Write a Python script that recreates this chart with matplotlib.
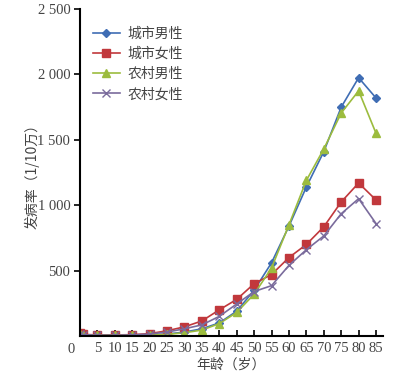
import matplotlib
matplotlib.use("Agg")
import matplotlib.pyplot as plt

plt.rcParams['font.family'] = ['Liberation Serif', 'Noto Sans CJK SC']

ages = [0, 1, 5, 10, 15, 20, 25, 30, 35, 40, 45, 50, 55, 60, 65, 70, 75, 80, 85]
city_male = [15, 8, 5, 5, 5, 8, 15, 30, 55, 100, 190, 350, 560, 840, 1140, 1410, 1750, 1975, 1820]
city_female = [20, 12, 8, 8, 10, 18, 40, 70, 115, 200, 280, 400, 470, 600, 700, 835, 1025, 1170, 1040]
rural_male = [15, 8, 5, 5, 5, 6, 12, 25, 45, 95, 180, 320, 520, 850, 1190, 1430, 1705, 1875, 1550]
rural_female = [18, 10, 6, 6, 8, 15, 30, 55, 85, 150, 245, 340, 385, 540, 660, 765, 935, 1050, 860]

labels = ['城市男性', '城市女性', '农村男性', '农村女性']
xticks = [5, 10, 15, 20, 25, 30, 35, 40, 45, 50, 55, 60, 65, 70, 75, 80, 85]
yticks = [500, 1000, 1500, 2000, 2500]
ytick_labels = ['500', '1 000', '1 500', '2 000', '2 500']

TXT = '#444444'
cjk = ['Noto Sans CJK SC', 'Liberation Serif']

fig = plt.figure(figsize=(4, 3.79), dpi=100)
ax = fig.add_axes([0.2, 0.1135, 0.7575, 0.8625])

ax.plot(ages, city_male, color='#3f6db4', marker='D', markersize=4, linewidth=1.2, label=labels[0])
ax.plot(ages, city_female, color='#c1383c', marker='s', markersize=6, linewidth=1.2, label=labels[1])
ax.plot(ages, rural_male, color='#9cbc3e', marker='^', markersize=6, linewidth=1.2, label=labels[2])
ax.plot(ages, rural_female, color='#7a6b9c', marker='x', markersize=6, linewidth=1.2,
        markeredgewidth=1.0, label=labels[3])

ax.set_xlim(0, 87)
ax.set_ylim(0, 2500)
ax.spines['top'].set_visible(False)
ax.spines['right'].set_visible(False)
ax.spines['left'].set_linewidth(1.5)
ax.spines['bottom'].set_linewidth(1.5)

ax.set_xticks(xticks)
ax.set_xticklabels([str(v) for v in xticks], fontsize=10.5, color=TXT)
ax.tick_params(axis='x', direction='in', length=4, width=1.2, pad=4)
ax.set_yticks(yticks)
ax.set_yticklabels(ytick_labels, fontsize=10.5, color=TXT)
ax.tick_params(axis='y', direction='out', length=4, width=1.2, pad=3)
ax.text(-2.6, -55, '0', fontsize=10.5, color=TXT, ha='center', va='top')

ax.set_xlabel('年龄（岁）', fontsize=10, color=TXT, labelpad=2, family=cjk)
ax.set_ylabel('发病率（1/10万）', fontsize=10, color=TXT, family=cjk)
ax.yaxis.set_label_coords(-0.135, 0.5)

leg = ax.legend(loc='upper left', bbox_to_anchor=(0.0, 0.985), frameon=False,
                prop={'family': cjk, 'size': 10},
                handlelength=2.0, handletextpad=0.5, labelspacing=0.45, labelcolor=TXT)

fig.savefig('out.png', dpi=100)
